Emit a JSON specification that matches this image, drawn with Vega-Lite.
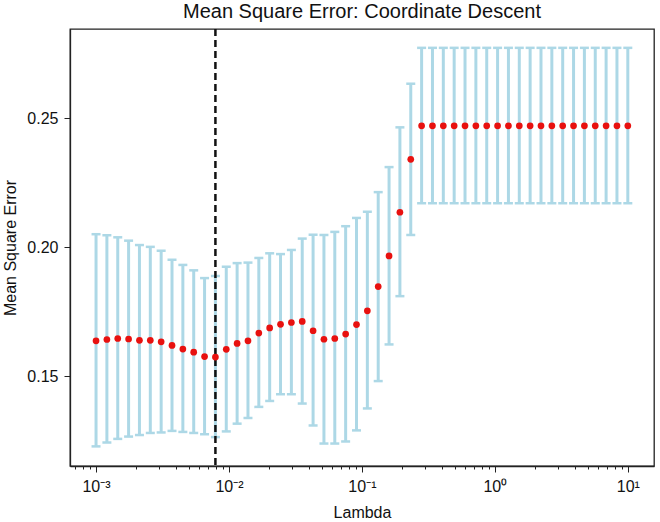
{
  "$schema": "https://vega.github.io/schema/vega-lite/v6.json",
  "autosize": {"type": "none"},
  "padding": {"left": 70, "top": 29, "right": 6, "bottom": 56},
  "width": 584,
  "height": 437,
  "background": "white",
  "title": {
    "text": "Mean Square Error: Coordinate Descent",
    "font": "Liberation Sans",
    "fontSize": 20,
    "fontWeight": "normal",
    "color": "#111",
    "anchor": "middle",
    "offset": 6
  },
  "config": {
    "view": {"stroke": "#222", "strokeWidth": 1.3},
    "axis": {
      "grid": false,
      "domainColor": "#222",
      "domainWidth": 1.3,
      "tickColor": "#222",
      "tickWidth": 1,
      "labelFont": "Liberation Sans",
      "labelFontSize": 16,
      "labelColor": "#111",
      "titleFont": "Liberation Sans",
      "titleFontSize": 16,
      "titleFontWeight": "normal",
      "titleColor": "#111"
    }
  },
  "datasets": {
    "cv": [
      {"lambda": 0.001, "mse": 0.1637, "lo": 0.1228, "hi": 0.2050},
      {"lambda": 0.00120679, "mse": 0.1642, "lo": 0.1243, "hi": 0.2046},
      {"lambda": 0.00145635, "mse": 0.1646, "lo": 0.1257, "hi": 0.2038},
      {"lambda": 0.00175751, "mse": 0.1644, "lo": 0.1266, "hi": 0.2025},
      {"lambda": 0.00212095, "mse": 0.1639, "lo": 0.1272, "hi": 0.2008},
      {"lambda": 0.00255955, "mse": 0.1639, "lo": 0.1280, "hi": 0.2001},
      {"lambda": 0.00308884, "mse": 0.1633, "lo": 0.1282, "hi": 0.1986},
      {"lambda": 0.00372759, "mse": 0.1619, "lo": 0.1288, "hi": 0.1951},
      {"lambda": 0.00449843, "mse": 0.1605, "lo": 0.1284, "hi": 0.1931},
      {"lambda": 0.00542868, "mse": 0.1593, "lo": 0.1280, "hi": 0.1910},
      {"lambda": 0.00655129, "mse": 0.1576, "lo": 0.1275, "hi": 0.1880},
      {"lambda": 0.00790604, "mse": 0.1574, "lo": 0.1264, "hi": 0.1888},
      {"lambda": 0.00954095, "mse": 0.1604, "lo": 0.1286, "hi": 0.1924},
      {"lambda": 0.01151395, "mse": 0.1627, "lo": 0.1316, "hi": 0.1938},
      {"lambda": 0.01389495, "mse": 0.1637, "lo": 0.1338, "hi": 0.1940},
      {"lambda": 0.01676833, "mse": 0.1667, "lo": 0.1381, "hi": 0.1958},
      {"lambda": 0.0202359, "mse": 0.1687, "lo": 0.1404, "hi": 0.1976},
      {"lambda": 0.02442053, "mse": 0.1701, "lo": 0.1430, "hi": 0.1973},
      {"lambda": 0.02947052, "mse": 0.1708, "lo": 0.1430, "hi": 0.1989},
      {"lambda": 0.0355648, "mse": 0.1712, "lo": 0.1394, "hi": 0.2033},
      {"lambda": 0.04291934, "mse": 0.1676, "lo": 0.1309, "hi": 0.2048},
      {"lambda": 0.05179475, "mse": 0.1643, "lo": 0.1239, "hi": 0.2047},
      {"lambda": 0.06250552, "mse": 0.1646, "lo": 0.1239, "hi": 0.2059},
      {"lambda": 0.0754312, "mse": 0.1663, "lo": 0.1247, "hi": 0.2081},
      {"lambda": 0.09102982, "mse": 0.1700, "lo": 0.1290, "hi": 0.2113},
      {"lambda": 0.10985411, "mse": 0.1753, "lo": 0.1375, "hi": 0.2137},
      {"lambda": 0.13257114, "mse": 0.1847, "lo": 0.1481, "hi": 0.2213},
      {"lambda": 0.15998587, "mse": 0.1966, "lo": 0.1623, "hi": 0.2310},
      {"lambda": 0.19306977, "mse": 0.2135, "lo": 0.1810, "hi": 0.2464},
      {"lambda": 0.23299518, "mse": 0.2340, "lo": 0.2047, "hi": 0.2633},
      {"lambda": 0.28117687, "mse": 0.2470, "lo": 0.2170, "hi": 0.2772},
      {"lambda": 0.33932218, "mse": 0.2470, "lo": 0.2170, "hi": 0.2772},
      {"lambda": 0.4094915, "mse": 0.2470, "lo": 0.2170, "hi": 0.2772},
      {"lambda": 0.49417134, "mse": 0.2470, "lo": 0.2170, "hi": 0.2772},
      {"lambda": 0.59636233, "mse": 0.2470, "lo": 0.2170, "hi": 0.2772},
      {"lambda": 0.71968567, "mse": 0.2470, "lo": 0.2170, "hi": 0.2772},
      {"lambda": 0.86851137, "mse": 0.2470, "lo": 0.2170, "hi": 0.2772},
      {"lambda": 1.04811313, "mse": 0.2470, "lo": 0.2170, "hi": 0.2772},
      {"lambda": 1.26485522, "mse": 0.2470, "lo": 0.2170, "hi": 0.2772},
      {"lambda": 1.52641797, "mse": 0.2470, "lo": 0.2170, "hi": 0.2772},
      {"lambda": 1.84206997, "mse": 0.2470, "lo": 0.2170, "hi": 0.2772},
      {"lambda": 2.22299648, "mse": 0.2470, "lo": 0.2170, "hi": 0.2772},
      {"lambda": 2.6826958, "mse": 0.2470, "lo": 0.2170, "hi": 0.2772},
      {"lambda": 3.23745754, "mse": 0.2470, "lo": 0.2170, "hi": 0.2772},
      {"lambda": 3.90693994, "mse": 0.2470, "lo": 0.2170, "hi": 0.2772},
      {"lambda": 4.71486636, "mse": 0.2470, "lo": 0.2170, "hi": 0.2772},
      {"lambda": 5.68986603, "mse": 0.2470, "lo": 0.2170, "hi": 0.2772},
      {"lambda": 6.86648845, "mse": 0.2470, "lo": 0.2170, "hi": 0.2772},
      {"lambda": 8.28642773, "mse": 0.2470, "lo": 0.2170, "hi": 0.2772},
      {"lambda": 10, "mse": 0.2470, "lo": 0.2170, "hi": 0.2772}
    ],
    "best": [{"lambda": 0.00790604}]
  },
  "data": {"name": "cv"},
  "encoding": {
    "x": {
      "field": "lambda",
      "type": "quantitative",
      "scale": {"type": "log", "domain": [0.000637, 15.74], "nice": false},
      "axis": {
        "title": "Lambda",
        "titlePadding": 10,
        "values": [0.0007, 0.0008, 0.0009, 0.001, 0.002, 0.003, 0.004, 0.005, 0.006, 0.007, 0.008, 0.009, 0.01, 0.02, 0.03, 0.04, 0.05, 0.06, 0.07, 0.08, 0.09, 0.1, 0.2, 0.3, 0.4, 0.5, 0.6, 0.7, 0.8, 0.9, 1, 2, 3, 4, 5, 6, 7, 8, 9, 10],
        "labelExpr": "datum.value == 0.001 ? '10⁻³' : datum.value == 0.01 ? '10⁻²' : datum.value == 0.1 ? '10⁻¹' : datum.value == 1 ? '10⁰' : datum.value == 10 ? '10¹' : ''",
        "tickSize": {"condition": {"test": "indexof([0.001, 0.01, 0.1, 1, 10], datum.value) >= 0", "value": 6}, "value": 3},
        "labelPadding": 6,
        "labelOverlap": false,
        "labelFlush": false
      }
    }
  },
  "layer": [
    {
      "mark": {"type": "rule", "color": "#add8e6", "strokeWidth": 3},
      "encoding": {
        "y": {
          "field": "lo",
          "type": "quantitative",
          "scale": {"domain": [0.1152, 0.2845], "nice": false, "zero": false},
          "axis": {
            "title": "Mean Square Error",
            "values": [0.15, 0.2, 0.25],
            "format": ".2f",
            "tickSize": 6,
            "labelPadding": 6,
            "titlePadding": 8
          }
        },
        "y2": {"field": "hi"}
      }
    },
    {
      "mark": {"type": "tick", "orient": "horizontal", "color": "#add8e6", "size": 9, "thickness": 2.5, "opacity": 1},
      "encoding": {"y": {"field": "lo", "type": "quantitative"}}
    },
    {
      "mark": {"type": "tick", "orient": "horizontal", "color": "#add8e6", "size": 9, "thickness": 2.5, "opacity": 1},
      "encoding": {"y": {"field": "hi", "type": "quantitative"}}
    },
    {
      "data": {"name": "best"},
      "mark": {"type": "rule", "color": "#111", "strokeWidth": 2.5, "strokeDash": [7, 4]},
      "encoding": {"x": {"field": "lambda", "type": "quantitative"}}
    },
    {
      "mark": {"type": "circle", "color": "#e8110f", "size": 45, "opacity": 1},
      "encoding": {"y": {"field": "mse", "type": "quantitative"}}
    }
  ]
}
